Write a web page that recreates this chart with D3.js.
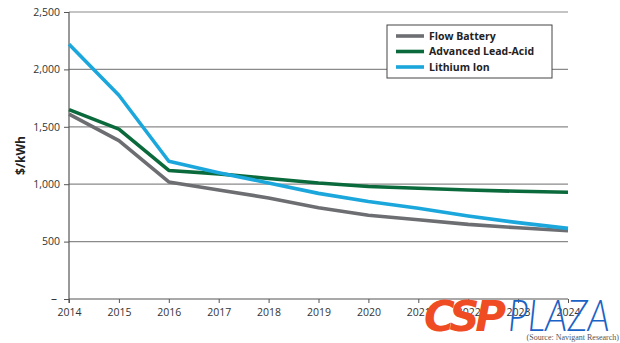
<!DOCTYPE html>
<html>
<head>
<meta charset="utf-8">
<script src="https://cdn.jsdelivr.net/npm/d3@7"></script>
<style>
  body { margin: 0; background: #fff; }
  svg { display: block; }
</style>
</head>
<body>
<div id="chart"></div>
<script>
// values ($/kWh)
var years = [2014, 2015, 2016, 2017, 2018, 2019, 2020, 2021, 2022, 2023, 2024];
var flowBattery = [1610, 1380, 1020, 950, 880, 795, 730, 690, 650, 620, 595];
var leadAcid = [1650, 1480, 1120, 1090, 1050, 1010, 980, 965, 950, 938, 930];
var lithiumIon = [2220, 1775, 1200, 1100, 1010, 920, 850, 790, 723, 665, 615];
var seriesNames = ['Flow Battery', 'Advanced Lead-Acid', 'Lithium Ion'];
var seriesColors = ['#6d6e71', '#0a6a3b', '#1ba7dc'];
var yTicks = [0, 500, 1000, 1500, 2000, 2500];

var width = 620, height = 343;
var margin = {left: 69, right: 52, top: 12, bottom: 44};

var svg = d3.select('#chart').append('svg')
    .attr('width', width)
    .attr('height', height);

var x = d3.scaleLinear().domain([2014, 2024]).range([margin.left, width - margin.right]);
var y = d3.scaleLinear().domain([0, 2500]).range([height - margin.bottom, margin.top]);

var tickFont = "'Open Sans', 'DejaVu Sans', sans-serif";

// grid lines
svg.append('g').selectAll('line')
    .data(yTicks.filter(function (d) { return d > 0; }))
    .enter().append('line')
    .attr('x1', x(2014)).attr('x2', x(2024))
    .attr('y1', function (d) { return y(d); })
    .attr('y2', function (d) { return y(d); })
    .attr('stroke', '#8a8a8a')
    .attr('stroke-width', 1.2);

// y axis
var yAxis = svg.append('g')
    .attr('transform', 'translate(' + x(2014) + ',0)')
    .call(d3.axisLeft(y).tickValues(yTicks).tickSize(5).tickPadding(4)
        .tickFormat(function (d) { return d === 0 ? '\u2013' : d3.format(',')(d); }));
yAxis.select('.domain').attr('stroke', '#555').attr('stroke-width', 1.2).attr('d', 'M0,' + y(2500) + 'V' + (y(0) + 4));
yAxis.selectAll('.tick line').attr('stroke', '#555');
yAxis.selectAll('.tick text')
    .attr('font-family', tickFont).attr('font-size', 10.5).attr('fill', '#333');
yAxis.selectAll('.tick').filter(function (d) { return d === 0; }).select('text')
    .attr('dx', -3).attr('font-size', 12);

// x axis
var xAxis = svg.append('g')
    .attr('transform', 'translate(0,' + y(0) + ')')
    .call(d3.axisBottom(x).tickValues(years).tickSize(4).tickPadding(6).tickFormat(d3.format('d')));
xAxis.select('.domain').attr('stroke', '#555').attr('stroke-width', 1.2).attr('d', 'M' + x(2014) + ',0H' + x(2024));
xAxis.selectAll('.tick line').attr('stroke', '#555');
xAxis.selectAll('.tick text')
    .attr('font-family', tickFont).attr('font-size', 10.5).attr('fill', '#333');

// y label
svg.append('text')
    .attr('transform', 'translate(25,' + y(1250) + ') rotate(-90)')
    .attr('text-anchor', 'middle')
    .attr('font-family', tickFont)
    .attr('font-weight', 'bold')
    .attr('font-size', 12)
    .attr('fill', '#222')
    .text('$/kWh');

// lines
var allSeries = [flowBattery, leadAcid, lithiumIon];
var line = d3.line()
    .x(function (d, i) { return x(years[i]); })
    .y(function (d) { return y(d); });

svg.append('g').selectAll('path')
    .data(allSeries)
    .enter().append('path')
    .attr('d', line)
    .attr('fill', 'none')
    .attr('stroke', function (d, i) { return seriesColors[i]; })
    .attr('stroke-width', 3.6)
    .attr('stroke-linejoin', 'round');

// legend
var legend = svg.append('g').attr('transform', 'translate(387,25)');
legend.append('rect')
    .attr('width', 165).attr('height', 53)
    .attr('fill', '#fff')
    .attr('stroke', '#444')
    .attr('stroke-width', 1);
var rows = legend.selectAll('g.row')
    .data(seriesNames)
    .enter().append('g')
    .attr('class', 'row')
    .attr('transform', function (d, i) { return 'translate(0,' + (11 + i * 15.5) + ')'; });
rows.append('line')
    .attr('x1', 9).attr('x2', 37)
    .attr('stroke', function (d, i) { return seriesColors[i]; })
    .attr('stroke-width', 3.6);
rows.append('text')
    .attr('x', 42).attr('dy', '0.35em')
    .attr('font-family', tickFont)
    .attr('font-weight', 'bold')
    .attr('font-size', 10.5)
    .attr('fill', '#222')
    .text(function (d) { return d; });

// watermark
svg.append('text')
    .attr('x', 424).attr('y', 331)
    .attr('font-family', "'DejaVu Sans', sans-serif")
    .attr('font-weight', 'bold')
    .attr('font-style', 'italic')
    .attr('font-size', 42)
    .attr('fill', '#f04c24')
    .attr('textLength', 82)
    .text('CSP');
svg.append('text')
    .attr('x', 508).attr('y', 331)
    .attr('font-family', "Lato, 'Liberation Sans', sans-serif")
    .attr('font-style', 'italic')
    .attr('font-weight', 300)
    .attr('font-size', 43)
    .attr('fill', '#1a62c6')
    .attr('textLength', 102)
    .attr('lengthAdjust', 'spacingAndGlyphs')
    .text('PLAZA');

// source
svg.append('text')
    .attr('x', 619).attr('y', 340)
    .attr('text-anchor', 'end')
    .attr('font-family', "'Liberation Serif', serif")
    .attr('font-size', 8)
    .attr('fill', '#555')
    .text('(Source: Navigant Research)');
</script>
</body>
</html>
